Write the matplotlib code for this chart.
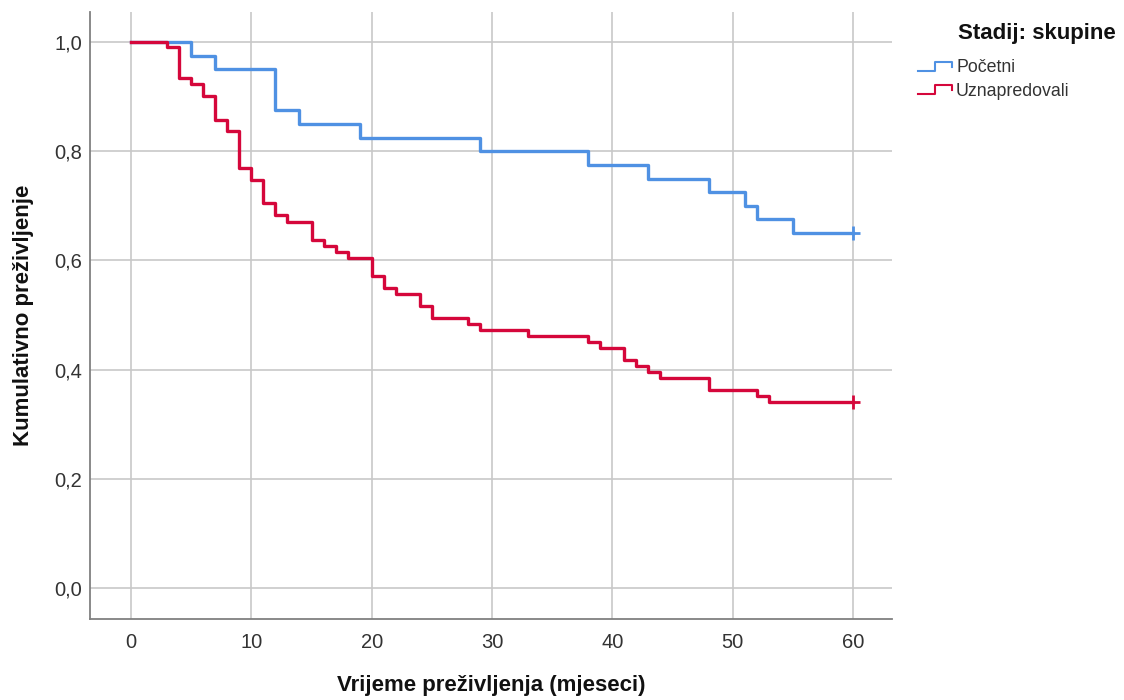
import matplotlib
matplotlib.use("Agg")
import matplotlib.pyplot as plt
from matplotlib.lines import Line2D

# Kaplan-Meier step data (time in months, survival after the step)
poc_times = [0, 5, 7, 12, 14, 19, 29, 38, 43, 48, 51, 52, 55, 60]
poc_surv = [1.0, 0.975, 0.95, 0.875, 0.85, 0.825, 0.80, 0.775, 0.75, 0.725, 0.70, 0.675, 0.65, 0.65]

uzn_times = [0, 3, 4, 5, 6, 7, 8, 9, 10, 11, 12, 13, 15, 16, 17, 18, 20, 21, 22, 24, 25,
             28, 29, 33, 38, 39, 41, 42, 43, 44, 48, 52, 53, 60]
uzn_surv = [1.0, 0.990, 0.934, 0.923, 0.902, 0.858, 0.837, 0.770, 0.748, 0.705, 0.683, 0.671,
            0.637, 0.626, 0.615, 0.604, 0.571, 0.550, 0.539, 0.516, 0.495,
            0.484, 0.473, 0.462, 0.451, 0.440, 0.418, 0.407, 0.396, 0.385, 0.363, 0.352, 0.341, 0.341]

x_ticks = [0, 10, 20, 30, 40, 50, 60]
y_ticks = [0.0, 0.2, 0.4, 0.6, 0.8, 1.0]
y_labels = ["0,0", "0,2", "0,4", "0,6", "0,8", "1,0"]
series_names = ["Početni", "Uznapredovali"]
legend_title = "Stadij: skupine"

BLUE = "#4F91E3"
RED = "#D5073B"
FONT = ["Liberation Sans", "DejaVu Sans"]
plt.rcParams["font.family"] = FONT

W, H = 1124, 700
fig = plt.figure(figsize=(W / 100, H / 100), dpi=100)
ax = fig.add_axes([90 / W, 1 - 619 / H, (892 - 90) / W, (619 - 12) / H])

ax.set_xlim(-3.41, 63.24)
ax.set_ylim(-0.0568, 1.055)

ax.step(poc_times, poc_surv, where="post", color=BLUE, lw=2.4, zorder=3)
ax.step(uzn_times, uzn_surv, where="post", color=RED, lw=2.4, zorder=4)
ax.plot([poc_times[-1]], [poc_surv[-1]], marker="+", color=BLUE, ms=10, mew=2, zorder=3)
ax.plot([uzn_times[-1]], [uzn_surv[-1]], marker="+", color=RED, ms=10, mew=2, zorder=4)

ax.set_xticks(x_ticks)
ax.set_yticks(y_ticks)
ax.set_yticklabels(y_labels)
ax.tick_params(axis="both", length=0, labelsize=14.5, colors="#333333")
ax.tick_params(axis="x", pad=10)
ax.tick_params(axis="y", pad=5.5)
ax.grid(True, color="#C8C8C8", lw=1.2)
ax.set_axisbelow(True)
for s in ["top", "right"]:
    ax.spines[s].set_visible(False)
for s in ["left", "bottom"]:
    ax.spines[s].set_color("#808080")
    ax.spines[s].set_linewidth(1.3)

fig.text(491 / W, 1 - 686 / H, "Vrijeme preživljenja (mjeseci)", ha="center", va="center",
         fontsize=16, fontweight="bold", color="#111111")
fig.text(24 / W, 1 - 315 / H, "Kumulativno preživljenje", ha="center", va="center",
         rotation=90, fontsize=16, fontweight="bold", color="#111111")

# Legend
fig.text(958 / W, 1 - 33 / H, legend_title, ha="left", va="center",
         fontsize=16, fontweight="bold", color="#111111")
for i, (name, col) in enumerate(zip(series_names, [BLUE, RED])):
    yc = 68 + i * 23
    xs = [918, 935, 935, 952, 952]
    ys = [yc + 3, yc + 3, yc - 6, yc - 6, yc - 1]
    fig.add_artist(Line2D([x / W for x in xs], [1 - y / H for y in ys],
                          transform=fig.transFigure, color=col, lw=1.5))
    fig.text(956 / W, 1 - yc / H, name, ha="left", va="center", fontsize=12.8, color="#333333")

fig.savefig("out.png", dpi=100, facecolor="white")
